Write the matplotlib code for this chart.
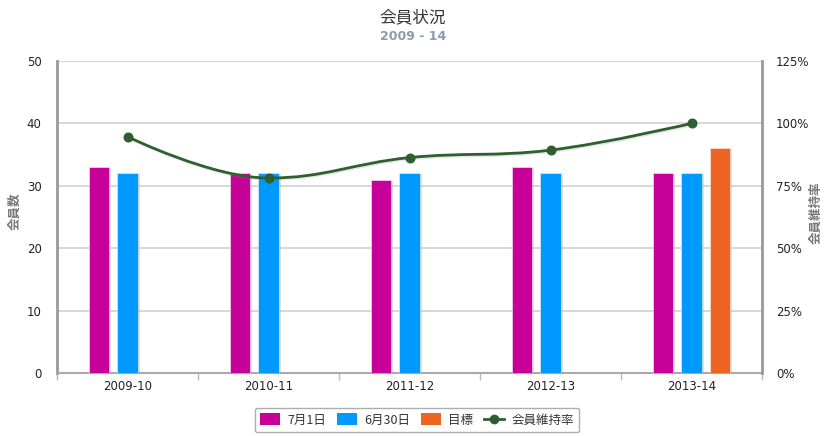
import matplotlib
matplotlib.use("Agg")
import matplotlib.pyplot as plt
import numpy as np
from matplotlib.path import Path
from matplotlib.patches import PathPatch, Patch
from matplotlib.lines import Line2D
import matplotlib.patheffects as pe

plt.rcParams['font.family'] = ['Noto Sans CJK JP', 'DejaVu Sans']

categories = ["2009-10", "2010-11", "2011-12", "2012-13", "2013-14"]
jul1 = [33, 32, 31, 33, 32]
jun30 = [32, 32, 32, 32, 32]
target = [None, None, None, None, 36]
retention = [94.7, 78.1, 86.3, 89.3, 100.0]

series_names = ["7月1日", "6月30日", "目標", "会員維持率"]
colors = ["#C8009A", "#0099FF", "#EE6423"]
line_color = "#2F5F2F"

fig = plt.figure(figsize=(8.26, 4.36), dpi=100)
ax = fig.add_axes([57/826, 63/436, (762-57)/826, (373-61)/436])
ax2 = ax.twinx()

x = np.arange(len(categories))
slot = 0.2035
bw = 0.146
shadow = [pe.SimplePatchShadow(offset=(1.4, -0.7), shadow_rgbFace='#999999', alpha=0.3), pe.Normal()]
for k, vals in enumerate([jul1, jun30, target]):
    for i, v in enumerate(vals):
        if v is None:
            continue
        b = ax.bar(x[i] + (k - 1) * slot, v, width=bw, color=colors[k],
                   edgecolor='#F4F4F4', linewidth=0.4, zorder=3)
        for p in b:
            p.set_path_effects(shadow)

ax.set_xlim(-0.5, len(categories) - 0.5)
ax.set_ylim(0, 50)
ax.set_yticks([0, 10, 20, 30, 40, 50])
ax.yaxis.grid(True, color='#D4D4D4', linewidth=1.3, zorder=0)
ax.set_axisbelow(True)
ax.set_xticks(x)
ax.set_xticklabels(categories)
ax.set_xticks(np.arange(-0.5, len(categories) + 0.5, 1), minor=True)
ax.tick_params(axis='x', which='major', length=0, pad=5, labelsize=8.5, labelcolor='#222222')
ax.tick_params(axis='x', which='minor', length=5, width=1, color='#BBBBBB')
ax.tick_params(axis='y', length=0, pad=11, labelsize=8.5, labelcolor='#222222')
for lab in ax.get_xticklabels() + ax.get_yticklabels():
    lab.set_family('DejaVu Sans')

for s in ['top', 'right']:
    ax.spines[s].set_visible(False)
ax.spines['left'].set_color('#999999')
ax.spines['left'].set_linewidth(2)
ax.spines['bottom'].set_color('#AAAAAA')
ax.spines['bottom'].set_linewidth(1.5)

ax2.set_ylim(0, 125)
ax2.set_yticks([0, 25, 50, 75, 100, 125])
ax2.set_yticklabels([f"{t}%" for t in [0, 25, 50, 75, 100, 125]])
ax2.tick_params(axis='y', length=0, pad=10, labelsize=8.5, labelcolor='#222222')
for lab in ax2.get_yticklabels():
    lab.set_family('DejaVu Sans')
for s in ['top', 'left', 'bottom']:
    ax2.spines[s].set_visible(False)
ax2.spines['right'].set_color('#999999')
ax2.spines['right'].set_linewidth(2)


def hc_spline(xs, ys, smoothing=1.5):
    n = len(xs)
    left = [None] * n
    right = [None] * n
    for i in range(1, n - 1):
        px, py = xs[i], ys[i]
        lx, ly = xs[i - 1], ys[i - 1]
        nx, ny = xs[i + 1], ys[i + 1]
        d = smoothing + 1
        lcx = (smoothing * px + lx) / d
        lcy = (smoothing * py + ly) / d
        rcx = (smoothing * px + nx) / d
        rcy = (smoothing * py + ny) / d
        if rcx != lcx:
            corr = ((rcy - lcy) * (rcx - px)) / (rcx - lcx) + py - rcy
            lcy += corr
            rcy += corr
        if lcy > ly and lcy > py:
            lcy = max(ly, py); rcy = 2 * py - lcy
        elif lcy < ly and lcy < py:
            lcy = min(ly, py); rcy = 2 * py - lcy
        if rcy > ny and rcy > py:
            rcy = max(ny, py); lcy = 2 * py - rcy
        elif rcy < ny and rcy < py:
            rcy = min(ny, py); lcy = 2 * py - rcy
        left[i] = (lcx, lcy)
        right[i] = (rcx, rcy)
    verts = [(xs[0], ys[0])]
    codes = [Path.MOVETO]
    for i in range(1, n):
        c1 = right[i - 1] if right[i - 1] else (xs[i - 1], ys[i - 1])
        c2 = left[i] if left[i] else (xs[i], ys[i])
        verts += [c1, c2, (xs[i], ys[i])]
        codes += [Path.CURVE4] * 3
    return Path(verts, codes)


path = hc_spline(list(x.astype(float)), retention)
ax2.add_patch(PathPatch(path, facecolor='none', edgecolor=line_color, linewidth=2, zorder=4,
                        path_effects=[pe.SimpleLineShadow(offset=(1, -1), shadow_color='#888888', alpha=0.2), pe.Normal()]))
ax2.plot(x, retention, linestyle='none', marker='o', markersize=6.2, color=line_color, zorder=5)

fig.text(0.5, 1 - 18/436, "会員状況", ha='center', va='center', fontsize=12, color='#333333')
fig.text(0.5, 1 - 37/436, "2009 - 14", ha='center', va='center', fontsize=9, color='#8A9BB0',
         family='DejaVu Sans', fontweight='bold')

fig.text(15/826, 1 - 211/436, "会員数", rotation=90, ha='center', va='center', fontsize=9,
         color='#777777', fontweight='bold')
fig.text(816/826, 1 - 213/436, "会員維持率", rotation=90, ha='center', va='center', fontsize=9,
         color='#777777', fontweight='bold')

handles = [Patch(facecolor=colors[0]), Patch(facecolor=colors[1]), Patch(facecolor=colors[2]),
           Line2D([0], [0], color=line_color, linewidth=2, marker='o', markersize=6)]
leg = fig.legend(handles, series_names, loc='center', bbox_to_anchor=(417/826, 1 - 420/436), ncol=4,
                 fontsize=9, frameon=True, fancybox=True, edgecolor='#999999', handlelength=1.6,
                 handleheight=1.1, handletextpad=0.55, columnspacing=0.9, borderpad=0.45, labelcolor='#333333')
leg.get_frame().set_linewidth(1)

fig.savefig("out.png", dpi=100)
